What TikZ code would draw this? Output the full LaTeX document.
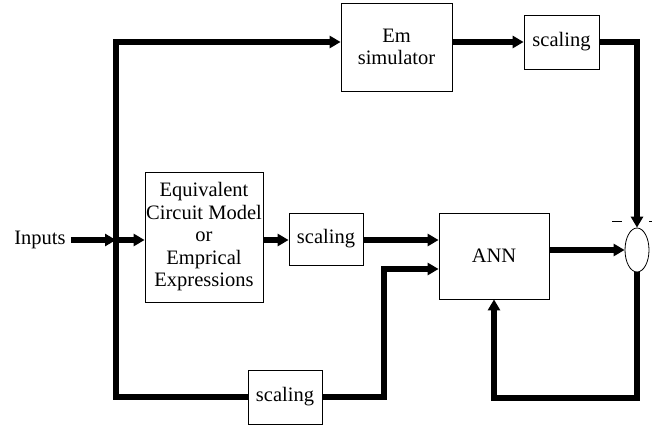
\documentclass[tikz,border=0pt]{standalone}
\usepackage{fontspec}
\setmainfont{Liberation Serif}
\usetikzlibrary{positioning,arrows.meta,calc,shapes.geometric}
\tikzset{
  blk/.style={draw,line width=0.8pt,align=center,inner sep=0pt,
    font=\fontsize{20.5}{22.5}\selectfont},
  sig/.style={line width=5.5pt},
  sigarr/.style={sig,-{Triangle[length=11pt,width=12pt]}},
  sumnd/.style={ellipse,draw,line width=0.8pt,minimum width=24pt,minimum height=44pt,inner sep=0pt},
  sgn/.style={line width=0.6pt},
}

\begin{document}
\begin{tikzpicture}[x=1pt,y=-1pt]
  \useasboundingbox (0,0) rectangle (652,427);
  % blocks
  \node[font=\fontsize{20.5}{22.5}\selectfont,inner sep=2pt] (inp) at (40,240) {Inputs};
  \node[blk,minimum width=118pt,minimum height=130pt] (eqv) at (204,237)
    {Equivalent\\Circuit Model\\or\\Emprical\\Expressions};
  \node[blk,minimum width=74pt,minimum height=52pt] (scm) at (326,239) {scaling};
  \node[blk,minimum width=110pt,minimum height=86pt] (ann) at (494,256) {ANN};
  \node[blk,minimum width=111pt,minimum height=88pt] (em) at (396.5,47) {Em\\simulator};
  \node[blk,minimum width=75pt,minimum height=54pt] (sct) at (561.5,42) {scaling};
  \node[blk,minimum width=74pt,minimum height=54pt] (scb) at (285,397) {scaling};
  \node[sumnd] (sum) at (637,250) {};
  % bus points
  \coordinate (jn) at (116,240);
  \coordinate (top) at (116,42);
  \coordinate (cb) at (384,269);
  \coordinate (fb) at (637,398);
  % signal paths
  \draw[sigarr] ([xshift=3pt]inp.east) -- (jn);
  \draw[sigarr] (scb.west) -| (top) -- (top -| em.west);
  \draw[sigarr] (jn) -- (jn -| eqv.west);
  \draw[sigarr] (eqv.east |- jn) -- (jn -| scm.west);
  \draw[sigarr] (scm.east |- jn) -- (jn -| ann.west);
  \draw[sigarr] (scb.east) -| (cb) -- (cb -| ann.west);
  \draw[sigarr] (em.east |- sct.west) -- (sct.west);
  \draw[sigarr] (sct.east) -| (sum.north);
  \draw[sigarr] (ann.east |- sum.west) -- (sum.west);
  \draw[sigarr] (sum.south) -- (fb) -| (ann.south);
  % signs at the summer
  \draw[sgn] (612,221) -- (622,221);
  \draw[sgn] (649,221) -- (655,221);
\end{tikzpicture}
\end{document}
